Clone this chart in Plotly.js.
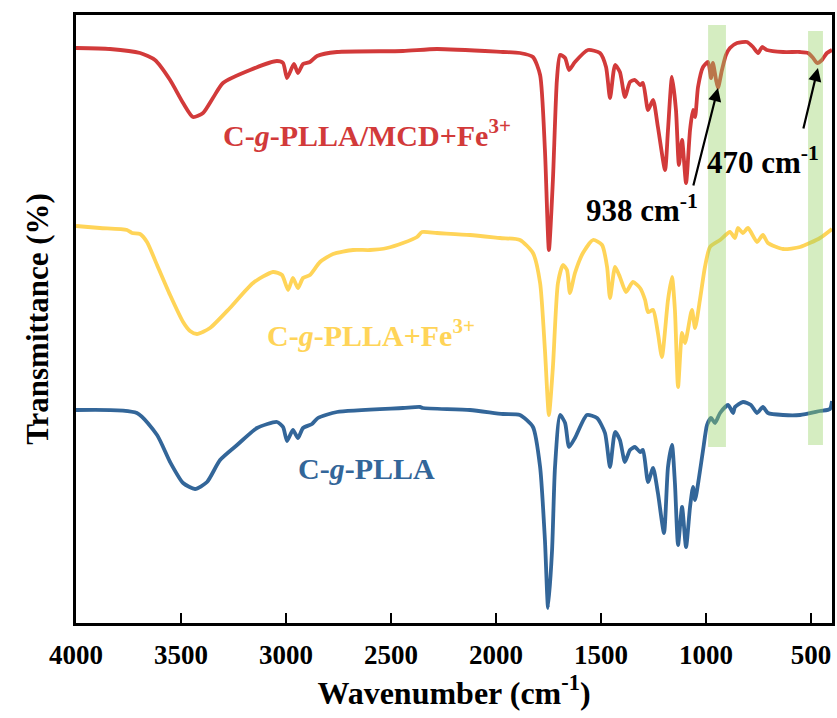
<!DOCTYPE html>
<html>
<head>
<meta charset="utf-8">
<script src="https://cdn.plot.ly/plotly-3.0.1.min.js"></script>
<style>html,body{margin:0;padding:0;background:#fff;}#chart{width:837px;height:718px;}</style>
</head>
<body>
<div id="chart"></div>
<script>
// Wavenumber (cm-1) and transmittance (arbitrary, offset) for each spectrum
const redWn = [4000,3838,3695,3624,3552,3490,3443,3395,3348,3300,3171,3043,3014,2995,2962,2943,2919,2886,2852,2757,2443,2281,1967,1886,1824,1790,1767,1748,1729,1710,1695,1671,1652,1624,1562,1505,1476,1457,1433,1410,1386,1362,1338,1314,1300,1276,1252,1229,1195,1181,1162,1143,1129,1114,1095,1076,1062,1052,1038,1014,990,976,967,952,943,924,905,886,852,805,776,752,733,710,633,552,514,490,471,448,424,400];
const redT = [575,574,570,563,543,520,506,510,525,540,553,562,560,545,559,550,559,561,567,571,572,574,571,570,566,548,473,373,443,543,568,565,553,561,573,570,556,525,558,551,526,541,543,538,540,513,523,496,453,493,546,513,458,483,440,493,513,506,536,556,561,545,560,543,535,553,568,575,580,581,576,570,576,573,571,571,570,565,560,563,570,573];

const yelWn = [4000,3886,3757,3733,3695,3662,3614,3552,3490,3457,3424,3362,3267,3157,3062,3019,2990,2967,2943,2919,2886,2838,2776,2681,2600,2519,2443,2376,2352,2281,2124,1981,1886,1824,1790,1767,1748,1729,1705,1681,1662,1648,1624,1586,1538,1495,1471,1457,1433,1410,1381,1348,1314,1290,1276,1252,1229,1210,1181,1162,1148,1133,1114,1100,1067,1052,1029,1005,981,933,886,862,848,824,800,757,729,705,633,552,457,400];
const yelT = [397,395,393,390,389,381,358,328,301,292,289,295,315,340,351,348,333,345,335,345,348,361,369,373,373,375,380,386,391,390,388,385,383,370,340,273,208,256,340,358,353,330,350,370,383,378,356,325,356,346,331,341,335,323,311,313,290,266,323,346,313,236,290,280,313,295,323,356,376,383,391,385,395,390,395,381,388,380,374,376,385,394];

const bluWn = [4000,3710,3614,3552,3490,3433,3376,3314,3233,3138,3043,3014,2995,2967,2943,2919,2876,2848,2757,2443,2362,2348,2124,1967,1886,1824,1790,1767,1752,1733,1719,1695,1671,1652,1624,1567,1519,1481,1457,1433,1410,1386,1362,1338,1314,1300,1276,1252,1229,1200,1181,1162,1148,1133,1114,1095,1076,1062,1052,1033,1014,995,976,957,933,895,871,862,824,786,757,729,705,633,552,457,410,400];
const bluT = [213,210,188,161,140,134,141,163,178,195,201,196,182,193,185,195,199,205,211,215,216,215,213,209,208,196,156,83,15,73,156,208,200,176,185,208,205,190,156,191,183,161,173,176,171,173,141,155,130,90,156,178,140,78,116,76,116,136,123,146,173,198,205,200,210,218,210,216,221,218,210,216,210,208,208,212,214,222];

const tickVals = [4000,3500,3000,2500,2000,1500,1000,500];
const tickText = ['4000','3500','3000','2500','2000','1500','1000','500'];

const seriesNames = ['C-g-PLLA/MCD+Fe3+','C-g-PLLA+Fe3+','C-g-PLLA'];
const labelText = ['<b>C-<i>g</i>-PLLA/MCD+Fe<sup>3+</sup></b>','<b>C-<i>g</i>-PLLA+Fe<sup>3+</sup></b>','<b>C-<i>g</i>-PLLA</b>'];
const labelWn = [2614,2595,2619];
const labelT = [490,290,155];

const bandLow = [905,443];
const bandHigh = [990,514];
const bandBottom = [176,178];
const bandTop = [598,592];

const peakText = ['<b>938 cm<sup>-1</sup></b>','<b>470 cm<sup>-1</sup></b>'];
const peakTextWn = [1305,729];
const peakTextT = [415,463];
const arrowHeadWn = [943,467];
const arrowHeadT = [535,555];
const arrowTailWn = [1062,538];
const arrowTailT = [436,493];

const colors = ['#d23a3a','#ffd458','#336699'];
const font = 'Liberation Serif, Times New Roman, serif';

const traces = [
  {x: redWn, y: redT, name: seriesNames[0], color: colors[0]},
  {x: yelWn, y: yelT, name: seriesNames[1], color: colors[1]},
  {x: bluWn, y: bluT, name: seriesNames[2], color: colors[2]}
].map(s => ({
  type: 'scatter', mode: 'lines', x: s.x, y: s.y, name: s.name,
  line: {color: s.color, width: 3.8, shape: 'spline', smoothing: 0.6},
  hoverinfo: 'x+y'
}));

const shapes = bandLow.map((lo, i) => ({
  type: 'rect', xref: 'x', yref: 'y', x0: bandHigh[i], x1: lo,
  y0: bandBottom[i], y1: bandTop[i], layer: 'above',
  fillcolor: 'rgba(150,210,100,0.4)', line: {width: 0}
}));

const annotations = [];
labelText.forEach((t, i) => annotations.push({
  x: labelWn[i], y: labelT[i], xref: 'x', yref: 'y', text: t, showarrow: false,
  font: {family: font, size: 30, color: colors[i]}
}));
peakText.forEach((t, i) => annotations.push({
  x: peakTextWn[i], y: peakTextT[i], xref: 'x', yref: 'y', text: t, showarrow: false,
  font: {family: font, size: 31, color: '#000'}
}));
arrowHeadWn.forEach((h, i) => annotations.push({
  x: h, y: arrowHeadT[i], xref: 'x', yref: 'y', axref: 'x', ayref: 'y',
  ax: arrowTailWn[i], ay: arrowTailT[i], text: '', showarrow: true,
  arrowhead: 2, arrowsize: 1.2, arrowwidth: 2.2, arrowcolor: '#000'
}));

const layout = {
  width: 837, height: 718,
  margin: {l: 76, r: 5, t: 15, b: 95},
  paper_bgcolor: '#fff', plot_bgcolor: '#fff',
  showlegend: false,
  xaxis: {
    range: [4000, 400], tickvals: tickVals, ticktext: tickText,
    ticks: 'inside', ticklen: 10, tickwidth: 2.5, tickcolor: '#000',
    showline: true, mirror: true, linewidth: 3, linecolor: '#000',
    showgrid: false, zeroline: false, ticklabelstandoff: 6,
    tickfont: {family: font, size: 27, color: '#000', weight: 'bold'},
    title: {text: '<b>Wavenumber (cm<sup>-1</sup>)</b>', font: {family: font, size: 32, color: '#000'}, standoff: 8}
  },
  yaxis: {
    range: [0, 608], showticklabels: false, ticks: '',
    showline: true, mirror: true, linewidth: 3, linecolor: '#000',
    showgrid: false, zeroline: false,
    title: {text: '<b>Transmittance (%)</b>', font: {family: font, size: 31, color: '#000'}, standoff: 16}
  },
  shapes: shapes,
  annotations: annotations
};

Plotly.newPlot('chart', traces, layout, {displayModeBar: false, staticPlot: true});
</script>
</body>
</html>
